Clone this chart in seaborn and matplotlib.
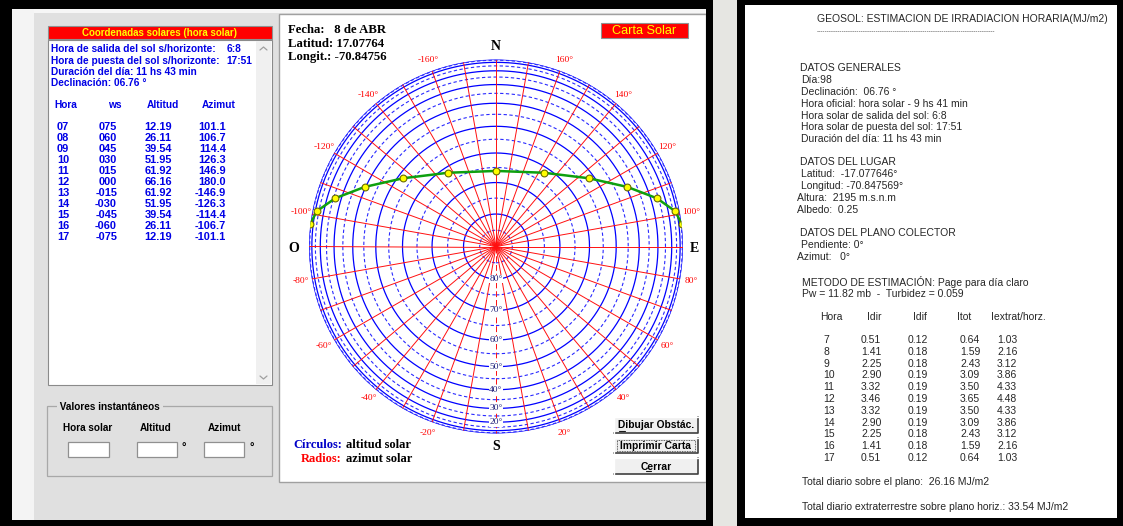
import numpy as np
import pandas as pd
import matplotlib
matplotlib.use("Agg")
import matplotlib.pyplot as plt
from matplotlib.patches import Rectangle
import seaborn as sns

# ---------------- data ----------------
hours = ['07', '08', '09', '10', '11', '12', '13', '14', '15', '16', '17']
hour_angle = [75, 60, 45, 30, 15, 0, -15, -30, -45, -60, -75]
altitude = [12.19, 26.11, 39.54, 51.95, 61.92, 66.16, 61.92, 51.95, 39.54, 26.11, 12.19]
azimuth = [101.1, 106.7, 114.4, 126.3, 146.9, 180.0, -146.9, -126.3, -114.4, -106.7, -101.1]
sunrise_azimuth = 96.9
sunset_azimuth = -96.9

alt_circle_labels = [80, 70, 60, 50, 40, 30, 20]
az_ray_labels = [-160, -140, -120, -100, -80, -60, -40, -20, 20, 40, 60, 80, 100, 120, 140, 160]

report_hours = [7, 8, 9, 10, 11, 12, 13, 14, 15, 16, 17]
i_dir = [0.51, 1.41, 2.25, 2.90, 3.32, 3.46, 3.32, 2.90, 2.25, 1.41, 0.51]
i_dif = [0.12, 0.18, 0.18, 0.19, 0.19, 0.19, 0.19, 0.19, 0.18, 0.18, 0.12]
i_tot = [0.64, 1.59, 2.43, 3.09, 3.50, 3.65, 3.50, 3.09, 2.43, 1.59, 0.64]
i_ext = [1.03, 2.16, 3.12, 3.86, 4.33, 4.48, 4.33, 3.86, 3.12, 2.16, 1.03]

# ---------------- style ----------------
sns.set_theme(style="white")
plt.rcParams['font.family'] = ['Liberation Sans', 'DejaVu Sans']
SERIF = ['Liberation Serif', 'DejaVu Serif']
SANS = ['Liberation Sans', 'DejaVu Sans']

W, H = 1123, 526
fig = plt.figure(figsize=(W / 100, H / 100), dpi=100, facecolor='#e6e6e2')
bg = fig.add_axes([0, 0, 1, 1])
bg.set_xlim(0, W)
bg.set_ylim(H, 0)
bg.axis('off')


def rect(x0, y0, x1, y1, fc, ec='none', lw=1.0, z=1):
    bg.add_patch(Rectangle((x0, y0), x1 - x0, y1 - y0, facecolor=fc, edgecolor=ec, linewidth=lw, zorder=z))


def txt(x, y, s, size=6.8, color='black', weight='normal', ha='left', family=SANS, z=5, **kw):
    return bg.text(x, y, s, fontsize=size, color=color, fontweight=weight, ha=ha, va='center',
                   family=family, zorder=z, **kw)


def button(x0, y0, x1, y1, label):
    rect(x0, y0, x1, y1, '#f0f0f0', z=3)
    bg.plot([x0, x1, x1], [y1, y1, y0], color='#404040', lw=1.2, zorder=4)
    bg.plot([x0, x0, x1], [y1, y0, y0], color='#ffffff', lw=1.0, zorder=4)
    txt((x0 + x1) / 2, (y0 + y1) / 2 + 0.5, label, size=7.4, weight='bold', ha='center', z=5)


# ---------------- left window frame ----------------
rect(0, 0, 713, H, '#000000', z=0)
rect(12, 9, 706, 520, '#e0e0e0', z=1)
rect(12, 9, 34, 520, '#f4f4f4', z=1)
rect(34, 9, 706, 13, '#f6f6f6', z=1)

# ---------------- coordinates list ----------------
rect(48, 26, 272, 39, '#ff0000', ec='#909090', lw=0.8, z=2)
txt(160, 32.5, 'Coordenadas solares (hora solar)', size=7.0, color='#ffff00', weight='bold', ha='center')
rect(48, 40, 272, 385, '#ffffff', ec='#8a8a8a', lw=0.8, z=2)
rect(256, 41, 271, 384, '#f0f0f0', z=2)
bg.plot([260, 263.5, 267], [50, 47, 50], color='#a0a0a0', lw=0.9, zorder=3)
bg.plot([260, 263.5, 267], [376, 379, 376], color='#a0a0a0', lw=0.9, zorder=3)

BLUE = '#0000e6'
LS = 7.3
txt(51, 49, 'Hora de salida del sol s/horizonte:', size=LS, color=BLUE, weight='bold')
txt(227, 49, '6:8', size=LS, color=BLUE, weight='bold')
txt(51, 61, 'Hora de puesta del sol s/horizonte:', size=LS, color=BLUE, weight='bold')
txt(226, 61, '17:51', size=LS, color=BLUE, weight='bold')
txt(51, 72, 'Duración del día: 11 hs 43 min', size=LS, color=BLUE, weight='bold')
txt(51, 82.5, 'Declinación: 06.76 °', size=LS, color=BLUE, weight='bold')

txt(54, 105, 'Hora', size=LS, color=BLUE, weight='bold')
txt(108, 105, 'ws', size=LS, color=BLUE, weight='bold')
txt(147, 105, 'Altitud', size=LS, color=BLUE, weight='bold')
txt(202, 105, 'Azimut', size=LS, color=BLUE, weight='bold')
NS = 7.9
for i, h in enumerate(hours):
    y = 127 + i * 11.0
    ws = hour_angle[i]
    ws_s = f"{ws:03d}" if ws >= 0 else f"-{abs(ws):03d}"
    txt(57, y, h, size=NS, color=BLUE, weight='bold')
    txt(117, y, ws_s, size=NS, color=BLUE, weight='bold', ha='right')
    txt(172, y, f"{altitude[i]:.2f}", size=NS, color=BLUE, weight='bold', ha='right')
    txt(226, y, f"{azimuth[i]:.1f}", size=NS, color=BLUE, weight='bold', ha='right')

# ---------------- instant values group ----------------
rect(47, 406, 272, 476, 'none', ec='#a8a8a8', lw=0.9, z=2)
txt(57, 407, ' Valores instantáneos ', size=7.2, weight='bold', z=6,
    bbox=dict(facecolor='#e0e0e0', edgecolor='none', pad=0.2))
for cx, lab in [(88, 'Hora solar'), (156, 'Altitud'), (224, 'Azimut')]:
    txt(cx, 428, lab, size=7.2, weight='bold', ha='center')
for x0, x1 in [(68, 109), (137, 177), (204, 244)]:
    rect(x0, 442, x1, 457, '#ffffff', ec='#909090', lw=0.9, z=3)
txt(182, 448, '°', size=8, weight='bold')
txt(250, 448, '°', size=8, weight='bold')

# ---------------- chart panel ----------------
rect(279, 14, 706, 482, '#ffffff', ec='#a0a0a0', lw=1.0, z=1)
rect(706, 9, 713, H, '#000000', z=2)

for y, s in [(30, 'Fecha:   8 de ABR'), (44, 'Latitud: 17.07764'), (57, 'Longit.: -70.84756')]:
    txt(288, y, s, size=9.2, weight='bold', family=SERIF)

rect(601, 23, 688, 38, '#ff0000', ec='#909090', lw=0.8, z=2)
txt(644.5, 31, 'Carta Solar', size=9.2, color='#ffff00', ha='center')

txt(496, 47, 'N', size=10, weight='bold', ha='center', family=SERIF)
txt(496, 447, 'S', size=10, weight='bold', ha='center', family=SERIF)
txt(294, 248, 'O', size=10, weight='bold', ha='center', family=SERIF)
txt(694, 248, 'E', size=10, weight='bold', ha='center', family=SERIF)

txt(342, 445, 'Círculos:', size=9, weight='bold', color='#0000c8', ha='right', family=SERIF)
txt(346, 445, 'altitud solar', size=9, weight='bold', family=SERIF)
txt(342, 459, 'Radios:', size=9, weight='bold', color='#ff0000', ha='right', family=SERIF)
txt(346, 459, 'azimut solar', size=9, weight='bold', family=SERIF)

button(614, 417, 698, 433, 'Dibujar Obstác.')
bg.plot([618.5, 624.5], [431, 431], color='k', lw=0.8, zorder=6)
button(614, 438, 698, 453, 'Imprimir Carta')
bg.add_patch(Rectangle((617, 440), 78, 11, facecolor='none', edgecolor='#303030', lw=0.6,
                       linestyle=(0, (1, 1)), zorder=6))
button(614, 458, 698, 474, 'Cerrar')
bg.plot([646, 651], [471, 471], color='k', lw=0.8, zorder=6)

# ---------------- right report panel ----------------
rect(737, 0, W, H, '#000000', z=0)
rect(745, 5, 1117, 518, '#ffffff', z=1)
GRAY = '#262626'
RS = 7.5
txt(817, 19, 'GEOSOL: ESTIMACION DE IRRADIACION HORARIA(MJ/m2)', size=RS, color=GRAY)
txt(817, 32, '-' * 84, size=4.6, color=GRAY)
lines = [
    (800, 68, 'DATOS GENERALES'),
    (801, 80, 'Día:98'),
    (801, 92, 'Declinación:  06.76 °'),
    (801, 104, 'Hora oficial: hora solar - 9 hs 41 min'),
    (801, 116, 'Hora solar de salida del sol: 6:8'),
    (801, 127, 'Hora solar de puesta del sol: 17:51'),
    (801, 139, 'Duración del día: 11 hs 43 min'),
    (800, 162, 'DATOS DEL LUGAR'),
    (801, 174, 'Latitud:  -17.077646°'),
    (801, 186, 'Longitud: -70.847569°'),
    (797, 198, 'Altura:  2195 m.s.n.m'),
    (797, 210, 'Albedo:  0.25'),
    (800, 233, 'DATOS DEL PLANO COLECTOR'),
    (801, 245, 'Pendiente: 0°'),
    (797, 257, 'Azimut:   0°'),
    (802, 282, 'METODO DE ESTIMACIÓN: Page para día claro'),
    (802, 294, 'Pw = 11.82 mb  -  Turbidez = 0.059'),
    (802, 482, 'Total diario sobre el plano:  26.16 MJ/m2'),
    (802, 507, 'Total diario extraterrestre sobre plano horiz.: 33.54 MJ/m2'),
]
for x, y, s in lines:
    txt(x, y, s, size=RS, color=GRAY)
for x, s in [(820, 'Hora'), (867, 'Idir'), (913, 'Idif'), (957, 'Itot'), (991, 'Iextrat/horz.')]:
    txt(x, 317, s, size=RS, color=GRAY)
for i, h in enumerate(report_hours):
    y = 340 + i * 11.8
    txt(823, y, str(h), size=RS, color=GRAY)
    txt(861, y, f"{i_dir[i]:.2f}", size=RS, color=GRAY)
    txt(908, y, f"{i_dif[i]:.2f}", size=RS, color=GRAY)
    txt(960, y, f"{i_tot[i]:.2f}", size=RS, color=GRAY)
    txt(997, y, f"{i_ext[i]:.2f}", size=RS, color=GRAY)

# ---------------- solar chart (polar) ----------------
CX, CY, R = 496, 246.5, 187
pax = fig.add_axes([(CX - R) / W, (H - CY - R) / H, 2 * R / W, 2 * R / H], projection='polar')
pax.set_theta_zero_location('S')
pax.set_theta_direction(1)
pax.patch.set_alpha(0)
pax.grid(False)
pax.spines['polar'].set_visible(False)

th = np.linspace(0, 2 * np.pi, 721)
for a in range(0, 90, 10):
    pax.plot(th, np.full_like(th, np.cos(np.deg2rad(a))), color='#0000ff', lw=0.9, zorder=2)
for a in range(5, 90, 10):
    pax.plot(th, np.full_like(th, np.cos(np.deg2rad(a))), color='#2a2aff', lw=0.8,
             linestyle=(0, (3, 2.2)), zorder=2)
for az in range(-170, 190, 10):
    t = np.deg2rad(az)
    ls = (0, (6, 3)) if az == 0 else '-'
    pax.plot([t, t], [0, 1], color='#ff1010', lw=0.7, linestyle=ls, zorder=3)

for a in alt_circle_labels:
    pax.text(0, np.cos(np.deg2rad(a)), f"{a}°", color='#1c1c78', fontsize=6.8, family=SERIF,
             ha='center', va='center', zorder=7,
             bbox=dict(facecolor='white', edgecolor='none', pad=0.2))
for az in az_ray_labels:
    pax.text(np.deg2rad(az), 1.06, f"{az}°", color='#ff0000', fontsize=6.8, family=SERIF,
             ha='center', va='center', zorder=7)

path_az = np.array([sunrise_azimuth] + azimuth + [sunset_azimuth])
path_alt = np.array([0.0] + altitude + [0.0])
df = pd.DataFrame({'theta': np.deg2rad(np.mod(path_az, 360)),
                   'r': np.cos(np.deg2rad(path_alt))})
sns.lineplot(data=df, x='theta', y='r', sort=False, color='#0ea00e', lw=1.8, ax=pax, zorder=5)
sns.scatterplot(data=df, x='theta', y='r', s=24, color='#ffff00', edgecolor='#6a6a00',
                linewidth=0.8, ax=pax, zorder=6)

pax.set_ylim(0, 1)
pax.set_xticks([])
pax.set_yticks([])
pax.set_xlabel('')
pax.set_ylabel('')

fig.savefig('out.png', dpi=100, facecolor=fig.get_facecolor())
